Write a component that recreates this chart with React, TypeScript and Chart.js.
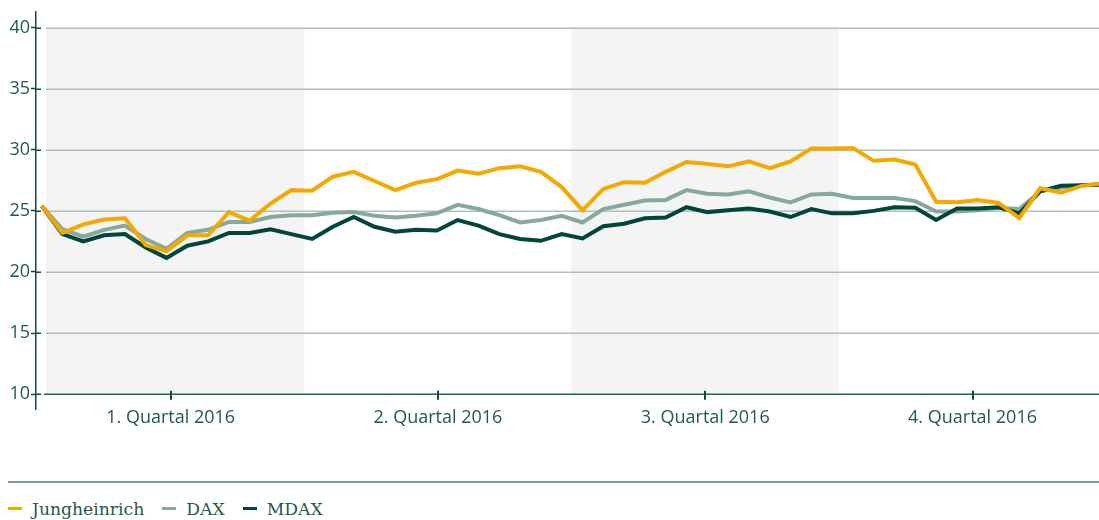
import React, { useEffect, useRef } from "react";
import { Chart, registerables } from "chart.js";

Chart.register(...registerables);

// Weekly observation index (week 0 = start of 2016)
const weekIndex = [
  0, 1, 2, 3, 4, 5, 6, 7, 8, 9, 10, 11, 12, 13, 14, 15, 16, 17, 18, 19, 20, 21, 22, 23, 24, 25,
  26, 27, 28, 29, 30, 31, 32, 33, 34, 35, 36, 37, 38, 39, 40, 41, 42, 43, 44, 45, 46, 47, 48, 49, 50, 51,
];

const jungheinrich = [
  25.4, 23.2, 23.9, 24.3, 24.4, 22.2, 21.7, 23.0, 23.0, 24.9, 24.2, 25.6, 26.7, 26.65, 27.8, 28.2,
  27.45, 26.7, 27.3, 27.6, 28.3, 28.05, 28.5, 28.65, 28.2, 26.95, 25.05, 26.8, 27.35, 27.3, 28.2,
  29.0, 28.85, 28.65, 29.05, 28.5, 29.05, 30.1, 30.1, 30.15, 29.1, 29.2, 28.8, 25.75, 25.7, 25.9,
  25.65, 24.4, 26.85, 26.5, 27.05, 27.25,
];

const dax = [
  25.4, 23.5, 22.9, 23.45, 23.8, 22.7, 21.9, 23.2, 23.45, 24.1, 24.1, 24.5, 24.65, 24.65, 24.85, 24.9,
  24.6, 24.45, 24.6, 24.8, 25.5, 25.15, 24.65, 24.05, 24.25, 24.6, 24.05, 25.15, 25.5, 25.85, 25.9,
  26.7, 26.4, 26.35, 26.6, 26.1, 25.7, 26.35, 26.4, 26.05, 26.05, 26.05, 25.8, 24.95, 24.95, 25.05,
  25.25, 25.15, 26.6, 26.9, 27.1, 27.2,
];

const mdax = [
  25.4, 23.1, 22.5, 23.0, 23.1, 22.0, 21.15, 22.15, 22.5, 23.2, 23.2, 23.5, 23.1, 22.7, 23.7, 24.5,
  23.7, 23.3, 23.45, 23.4, 24.25, 23.8, 23.1, 22.7, 22.55, 23.1, 22.75, 23.75, 23.95, 24.4, 24.45,
  25.3, 24.9, 25.05, 25.2, 24.95, 24.5, 25.15, 24.8, 24.8, 25.0, 25.3, 25.25, 24.25, 25.2, 25.2,
  25.3, 24.8, 26.6, 27.05, 27.1, 27.15,
];

const quarterLabels = ["1. Quartal 2016", "2. Quartal 2016", "3. Quartal 2016", "4. Quartal 2016"];
const quarterCenters = [6.2, 19.05, 31.9, 44.75];
const quarterBounds = [-0.25, 12.62, 25.47, 38.32, 51.17];
const shadedQuarters = [0, 2];
const yTickValues = [10, 15, 20, 25, 30, 35, 40];

const seriesNames = ["Jungheinrich", "DAX", "MDAX"];

const C = {
  jung: "#f5a800",
  dax: "#87a99c",
  mdax: "#00463a",
  text: "#1f5a4b",
  axis: "#0f4a3c",
  grid: "#aac1b9",
  band: "#f4f4f4",
  rule: "#7b9d91",
};

const decorPlugin = {
  id: "decor",
  beforeDatasetsDraw(chart: any) {
    const { ctx, scales, chartArea } = chart;
    const x = scales.x;
    const y = scales.y;
    const gridLeft = 46;
    const right = chartArea.right;
    const top = y.getPixelForValue(yTickValues[yTickValues.length - 1]);
    const bottom = y.getPixelForValue(yTickValues[0]);
    ctx.save();
    // shaded quarters
    ctx.fillStyle = C.band;
    shadedQuarters.forEach((q) => {
      const x0 = Math.max(gridLeft, x.getPixelForValue(quarterBounds[q]));
      const x1 = Math.min(right, x.getPixelForValue(quarterBounds[q + 1]));
      ctx.fillRect(x0, top, x1 - x0, bottom - top);
    });
    // horizontal grid lines
    ctx.strokeStyle = C.grid;
    ctx.lineWidth = 1.5;
    yTickValues.slice(1).forEach((v) => {
      const py = Math.round(y.getPixelForValue(v)) + 0.25;
      ctx.beginPath();
      ctx.moveTo(gridLeft, py);
      ctx.lineTo(right, py);
      ctx.stroke();
    });
    // x axis line at the baseline value
    const by = Math.round(bottom) + 0.25;
    ctx.strokeStyle = "#2b6253";
    ctx.lineWidth = 1.5;
    ctx.beginPath();
    ctx.moveTo(44, by);
    ctx.lineTo(right, by);
    ctx.stroke();
    // quarter tick marks
    ctx.strokeStyle = C.axis;
    ctx.lineWidth = 2;
    quarterCenters.forEach((v) => {
      const px = Math.round(x.getPixelForValue(v));
      ctx.beginPath();
      ctx.moveTo(px, by - 3.5);
      ctx.lineTo(px, by + 5.5);
      ctx.stroke();
    });
    // right half of y tick marks
    ctx.strokeStyle = C.axis;
    ctx.lineWidth = 1.5;
    const axisX = chartArea.left;
    yTickValues.forEach((v) => {
      const py = Math.round(y.getPixelForValue(v)) + 0.25;
      ctx.beginPath();
      ctx.moveTo(axisX, py);
      ctx.lineTo(axisX + 5, py);
      ctx.stroke();
    });
    ctx.restore();
  },
};

export default function App() {
  const ref = useRef<HTMLCanvasElement | null>(null);

  useEffect(() => {
    if (!ref.current) return;
    const mk = (vals: number[]) => weekIndex.map((w, i) => ({ x: w, y: vals[i] }));
    const chart = new Chart(ref.current, {
      type: "line",
      data: {
        datasets: [
          { label: seriesNames[0], data: mk(jungheinrich), borderColor: C.jung, borderWidth: 4, pointRadius: 0, tension: 0, order: 0 },
          { label: seriesNames[1], data: mk(dax), borderColor: C.dax, borderWidth: 4, pointRadius: 0, tension: 0, order: 2 },
          { label: seriesNames[2], data: mk(mdax), borderColor: C.mdax, borderWidth: 4, pointRadius: 0, tension: 0, order: 1 },
        ],
      },
      options: {
        responsive: false,
        animation: false,
        events: [],
        layout: { padding: { top: 10, left: 0, right: 0, bottom: 0 } },
        plugins: { legend: { display: false }, tooltip: { enabled: false } },
        scales: {
          x: {
            type: "linear",
            min: -0.274,
            max: 50.83,
            grid: { display: false },
            border: { display: false },
            afterFit: (s: any) => {
              s.height = 31;
            },
            afterBuildTicks: (s: any) => {
              s.ticks = quarterCenters.map((v) => ({ value: v }));
            },
            ticks: {
              autoSkip: false,
              maxRotation: 0,
              padding: -10,
              color: C.text,
              font: { family: '"Open Sans"', size: 18 },
              callback: (_v: any, i: number) => quarterLabels[i],
            },
          },
          y: {
            min: 8.777,
            max: 41.304,
            afterFit: (s: any) => {
              s.width = 36;
            },
            afterBuildTicks: (s: any) => {
              s.ticks = yTickValues.map((v) => ({ value: v }));
            },
            border: { display: true, color: C.axis, width: 1.5 },
            grid: {
              display: true,
              drawOnChartArea: false,
              drawTicks: true,
              tickLength: 5,
              tickColor: C.axis,
              tickWidth: 1.5,
            },
            ticks: {
              padding: 1,
              color: C.text,
              font: { family: '"Open Sans"', size: 18 },
            },
          },
        },
      },
      plugins: [decorPlugin],
    } as any);
    return () => chart.destroy();
  }, []);

  const legendColors = [C.jung, C.dax, C.mdax];

  return (
    <div style={{ position: "absolute", left: 0, top: 0, width: 1099, height: 520, background: "#fff" }}>
      <canvas ref={ref} width={1099} height={440} style={{ position: "absolute", left: 0, top: 0 }} />
      <div style={{ position: "absolute", left: 8, top: 481, width: 1091, height: 2, background: C.rule }} />
      <div
        style={{
          position: "absolute",
          left: 8,
          top: 499,
          height: 20,
          display: "flex",
          alignItems: "center",
          fontFamily: '"DejaVu Serif", serif',
          fontSize: 17.2,
          lineHeight: "20px",
          color: C.text,
          whiteSpace: "nowrap",
        }}
      >
        {seriesNames.map((n, i) => (
          <div key={n} style={{ display: "flex", alignItems: "center", marginRight: 18 }}>
            <span
              style={{
                display: "inline-block",
                width: 14,
                height: 3,
                background: legendColors[i],
                marginRight: 10,
                position: "relative",
                top: -1,
              }}
            />
            <span>{n}</span>
          </div>
        ))}
      </div>
    </div>
  );
}
